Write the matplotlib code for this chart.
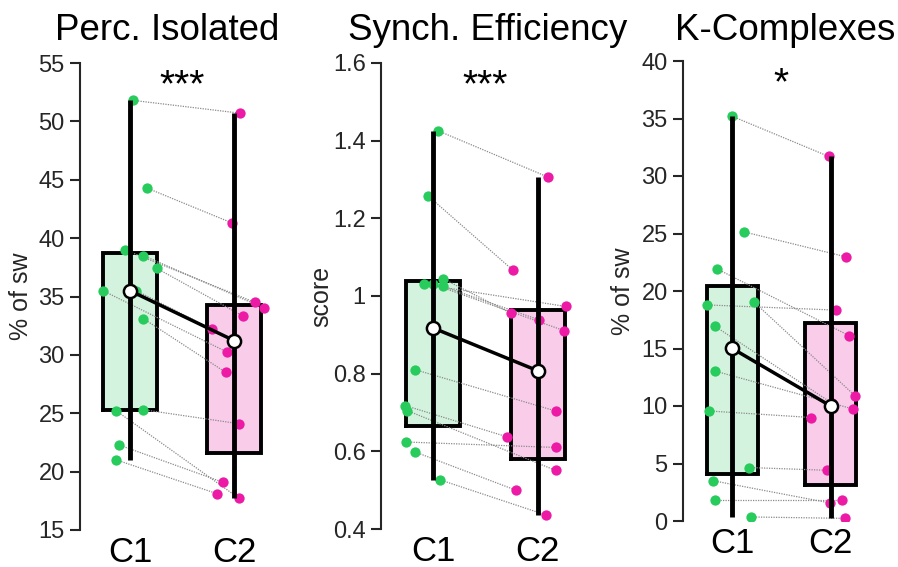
import matplotlib.pyplot as plt
import numpy as np

plt.rcParams['font.family'] = ['Liberation Sans', 'DejaVu Sans']

# values (paired subjects, same order in C1 and C2)
iso_c1 = [51.8, 44.3, 39.0, 38.5, 37.4, 35.5, 35.5, 33.1, 25.3, 25.2, 22.3, 21.0]
iso_c2 = [50.7, 41.3, 34.5, 34.0, 33.3, 30.25, 32.2, 28.5, 24.1, 17.7, 19.1, 18.1]
iso_j1 = [0.03, 0.16, -0.05, 0.13, 0.26, -0.26, 0.06, 0.13, 0.13, -0.13, -0.11, -0.13]
iso_j2 = [0.06, -0.02, 0.20, 0.29, 0.09, -0.07, -0.21, -0.08, 0.05, 0.05, -0.11, -0.16]

syn_c1 = [1.425, 1.258, 1.03, 1.045, 1.025, 1.03, 0.81, 0.718, 0.705, 0.624, 0.598, 0.527]
syn_c2 = [1.306, 1.067, 0.973, 0.956, 0.939, 0.911, 0.704, 0.637, 0.551, 0.61, 0.5, 0.436]
syn_j1 = [0.05, -0.05, -0.09, 0.09, 0.09, 0.0, -0.17, -0.27, -0.25, -0.26, -0.17, 0.06]
syn_j2 = [0.10, -0.24, 0.27, -0.26, 0.01, 0.25, 0.17, -0.29, 0.17, 0.17, -0.21, 0.08]

kc_c1 = [35.19, 25.14, 21.9, 18.79, 19.05, 16.96, 13.05, 9.57, 4.65, 3.51, 1.86, 0.35]
kc_c2 = [31.7, 22.98, 16.1, 18.34, 10.86, 10.26, 9.73, 9.0, 4.41, 1.57, 1.86, 0.23]
kc_j1 = [0.0, 0.12, -0.15, -0.26, 0.22, -0.18, -0.18, -0.24, 0.17, -0.2, -0.18, 0.19]
kc_j2 = [-0.02, 0.15, 0.19, 0.05, 0.25, 0.01, 0.23, -0.2, -0.04, -0.01, 0.11, 0.14]

titles = ['Perc. Isolated', 'Synch. Efficiency', 'K-Complexes']
ylabels = ['% of sw', 'score', '% of sw']
stars = ['***', '***', '*']
conds = ['C1', 'C2']

green, pink = '#27cc5c', '#ec1aa5'
green_fill, pink_fill = '#d4f3de', '#f9cdea'
ink = '#262626'


def panel(ax, c1, c2, j1, j2, ylim, yticks, xlim):
    c1, c2 = np.array(c1), np.array(c2)
    x1 = 1 + np.array(j1)
    x2 = 2 + np.array(j2)
    w = 0.26
    meds = []
    for pos, vals, fill in [(1, c1, green_fill), (2, c2, pink_fill)]:
        q1, med, q3 = np.percentile(vals, [25, 50, 75], method='hazen')
        ax.fill_between([pos - w, pos + w], q1, q3, color=fill, zorder=1, lw=0)
        ax.plot([pos - w, pos + w, pos + w, pos - w, pos - w], [q1, q1, q3, q3, q1],
                color='black', lw=2.8, zorder=2, solid_joinstyle='miter')
        ax.plot([pos, pos], [vals.min(), vals.max()], color='black', lw=3.5, zorder=5,
                solid_capstyle='butt')
        meds.append(med)
    for a, b, ya, yb in zip(x1, x2, c1, c2):
        ax.plot([a, b], [ya, yb], color='#8a8a8a', lw=0.9, ls=(0, (1, 1)), zorder=3)
    ax.scatter(x1, c1, s=55, color=green, zorder=4, lw=0)
    ax.scatter(x2, c2, s=55, color=pink, zorder=4, lw=0)
    ax.plot([1, 2], meds, color='black', lw=2.5, zorder=6, marker='o', ms=9.5,
            mfc='white', mec='black', mew=1.8)
    ax.set_ylim(*ylim)
    ax.set_xlim(*xlim)
    ax.set_yticks(yticks)
    ax.set_xticks([1, 2])
    ax.set_xticklabels(conds, fontsize=25)
    for s in ['top', 'right', 'bottom']:
        ax.spines[s].set_visible(False)
    ax.spines['left'].set_color(ink)
    ax.spines['left'].set_linewidth(1.5)
    ax.spines['left'].set_bounds(*ylim)
    ax.tick_params(axis='y', direction='out', length=7, width=1.5, color=ink,
                   labelsize=17, labelcolor=ink, pad=4)
    ax.tick_params(axis='x', length=0, pad=4, labelcolor='black')


fig = plt.figure(figsize=(8.98, 5.67), dpi=100)
W, H = 898, 567
# left spine pixel, right pixel, top pixel, bottom pixel
boxes = [(80, 284, 63, 530), (381, 590, 63, 529), (683, 880, 61, 521)]
xlims = [(0.52, 2.48), (0.5, 2.5), (0.5, 2.5)]
ylims = [(15, 55), (0.4, 1.6), (0, 40)]
yticks = [np.arange(15, 56, 5), [0.4, 0.6, 0.8, 1.0, 1.2, 1.4, 1.6], np.arange(0, 41, 5)]
data = [(iso_c1, iso_c2, iso_j1, iso_j2), (syn_c1, syn_c2, syn_j1, syn_j2),
        (kc_c1, kc_c2, kc_j1, kc_j2)]
title_x = [167, 488, 785]
ylab_x = [33, 333, 635]

for i in range(3):
    l, r, t, b = boxes[i]
    ax = fig.add_axes([l / W, 1 - b / H, (r - l) / W, (b - t) / H])
    c1, c2, j1, j2 = data[i]
    panel(ax, c1, c2, j1, j2, ylims[i], yticks[i], xlims[i])
    ax.set_yticklabels(['1' if v == 1.0 and i == 1 else f'{v:g}' for v in yticks[i]])
    ax.set_ylabel(ylabels[i], fontsize=18, color=ink)
    ax.yaxis.set_label_coords((ylab_x[i] - l) / (r - l), 0.5)
    ax.text(1.5, ylims[i][1] - 0.05 * (ylims[i][1] - ylims[i][0]), stars[i],
            ha='center', va='center', fontsize=28, color='black')
    fig.text(title_x[i] / W, 1 - 31 / H, titles[i], ha='center', va='center',
             fontsize=26.5, color='black')

fig.savefig('out.png', dpi=100)
